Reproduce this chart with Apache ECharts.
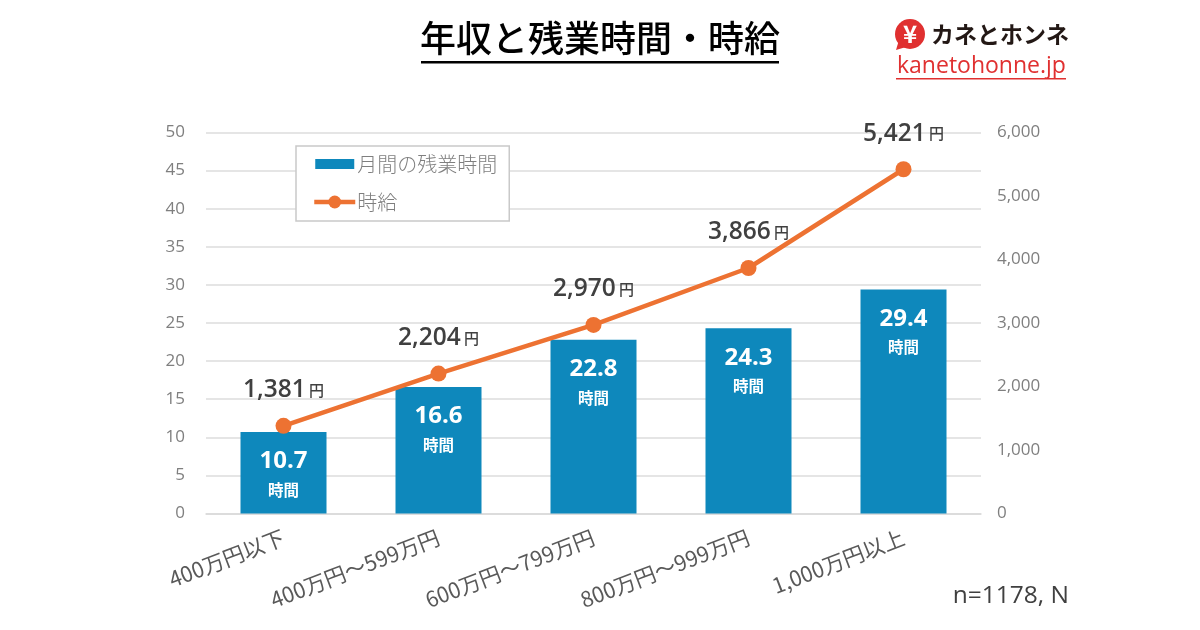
<!DOCTYPE html>
<html><head><meta charset="utf-8">
<style>html,body{margin:0;padding:0;background:#fff}#c{width:1200px;height:630px}</style>
<script src="https://cdn.jsdelivr.net/npm/echarts@6/dist/echarts.min.js"></script></head>
<body><div id="c"></div>
<script>
const categories = ['400万円以下','400万円～599万円','600万円～799万円','800万円～999万円','1,000万円以上'];
const overtimeHours = [10.7,16.6,22.8,24.3,29.4];
const hourlyWage = [1381,2204,2970,3866,5421];
const FONT = '"Noto Sans CJK JP","Noto Sans",sans-serif';
const chart = echarts.init(document.getElementById('c'));
chart.setOption({
  animation:false,
  textStyle:{fontFamily:FONT},
  grid:{left:206,right:219,top:132.5,bottom:116.5},
  legend:{
    left:296,top:146,orient:'vertical',
    padding:[8,12,9,16],itemGap:18,itemWidth:41,itemHeight:16,
    borderColor:'#c9c9c9',borderWidth:1.5,backgroundColor:'#fff',
    textStyle:{fontSize:20,fontWeight:300,color:'#7f7f7f',fontFamily:FONT,padding:[0,0,0,-3]},
    lineStyle:{width:4.5},
    data:[{name:'月間の残業時間',icon:'path://M0,0L41,0L41,0ZM1,3L40,3L40,13L1,13ZM0,16L41,16L41,16Z'},{name:'時給'}]
  },
  xAxis:{type:'category',data:categories,
    axisTick:{show:false},
    axisLine:{lineStyle:{color:'#d9d9d9',width:1.5}},
    axisLabel:{rotate:21,fontSize:21.5,fontWeight:400,color:'#595959',margin:23,interval:0,fontFamily:FONT}},
  yAxis:[
   {type:'value',min:0,max:50,interval:5,
    axisLine:{show:false},axisTick:{show:false},
    splitLine:{lineStyle:{color:'#dcdcdc',width:1.5}},
    axisLabel:{fontSize:17,color:'#7f7f7f',margin:21,fontFamily:'"Open Sans",sans-serif'}},
   {type:'value',min:0,max:6000,interval:1000,
    axisLine:{show:false},axisTick:{show:false},splitLine:{show:false},
    axisLabel:{fontSize:17,color:'#7f7f7f',margin:16,fontFamily:'"Open Sans",sans-serif',
      formatter:v=>v.toLocaleString('en-US')}}
  ],
  series:[
   {name:'月間の残業時間',type:'bar',data:overtimeHours,barWidth:86,z:2,
    itemStyle:{color:'#0E88BC'},
    label:{show:true,position:'insideTop',distance:13,lineHeight:30,
      formatter:p=>'{v|'+p.value.toFixed(1)+'}\n{u|時間}',
      rich:{v:{fontSize:24,fontWeight:700,color:'#fff',fontFamily:'"Open Sans",sans-serif',lineHeight:33},
            u:{fontSize:15.5,fontWeight:'bold',color:'#fff',fontFamily:FONT,lineHeight:24}}}},
   {name:'時給',type:'line',yAxisIndex:1,data:hourlyWage,z:5,
    symbol:'circle',symbolSize:16,
    lineStyle:{color:'#ED7232',width:4.5},itemStyle:{color:'#ED7232'},
    label:{show:true,position:'top',distance:15,
      formatter:p=>'{v|'+p.value.toLocaleString('en-US')+'}{u| 円}',
      rich:{v:{fontSize:24.5,fontWeight:600,color:'#404040',fontFamily:'"Open Sans",sans-serif'},
            u:{fontSize:15,fontWeight:500,color:'#404040',fontFamily:FONT}}}}
  ],
  graphic:[
   {type:'text',left:'center',top:20,style:{text:'年収と残業時間・時給',fontSize:36,fontWeight:500,fill:'#000',fontFamily:FONT}},
   {type:'rect',shape:{x:421,y:61,width:358,height:2.5},style:{fill:'#000'}},
   {type:'circle',shape:{cx:910,cy:34,r:15},style:{fill:'#E03030'}},
   {type:'polygon',shape:{points:[[896,50],[899,40],[906,47]]},style:{fill:'#E03030'}},
   {type:'text',x:910,y:34,style:{text:'¥',fontSize:24,fontWeight:'bold',fill:'#fff',align:'center',verticalAlign:'middle',fontFamily:FONT}},
   {type:'text',x:931,y:34,style:{text:'カネとホンネ',fontSize:23,fontWeight:700,fill:'#231815',verticalAlign:'middle',fontFamily:FONT}},
   {type:'text',x:897,y:66,style:{text:'kanetohonne.jp',fontSize:23,fill:'#E03030',verticalAlign:'middle',fontFamily:'"Open Sans",sans-serif'}},
   {type:'rect',shape:{x:896,y:78,width:170,height:1.5},style:{fill:'#E03030'}},
   {type:'text',x:1069,y:596,style:{text:'n=1178, N',fontSize:24.5,fontWeight:400,fill:'#404040',align:'right',verticalAlign:'middle',fontFamily:'"Open Sans",sans-serif'}}
  ]
});
</script></body></html>
